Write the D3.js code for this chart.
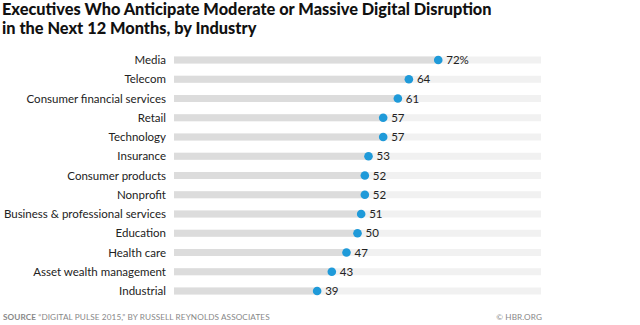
<!DOCTYPE html>
<html lang="en">
<head>
    <meta charset="UTF-8">
    <title>Digital Disruption by Industry</title>
    <script src="https://d3js.org/d3.v7.min.js"></script>
    <style>
        body {
            margin: 0;
            background: #fff;
            font-family: 'Lato', 'Open Sans', sans-serif;
        }
        svg { display: block; }
        .title { font-weight: 900; font-size: 17px; fill: #111; }
        .label { font-size: 11.5px; fill: #222; }
        .value { font-size: 11.5px; fill: #222; }
        .foot { font-size: 8.2px; fill: #888; letter-spacing: 0.1px; }
    </style>
</head>
<body>
    <svg id="chart" width="640" height="325"></svg>

    <script>
        const industries = [
            "Media", "Telecom", "Consumer financial services", "Retail", "Technology",
            "Insurance", "Consumer products", "Nonprofit", "Business & professional services",
            "Education", "Health care", "Asset wealth management", "Industrial"
        ];
        const shares = [72, 64, 61, 57, 57, 53, 52, 52, 51, 50, 47, 43, 39];
        const titleLines = [
            "Executives Who Anticipate Moderate or Massive Digital Disruption",
            "in the Next 12 Months, by Industry"
        ];

        const svg = d3.select("#chart");

        // title, shrunk so the first line ends near x=492
        const title = svg.selectAll(".title")
            .data(titleLines)
            .enter().append("text")
            .attr("class", "title")
            .attr("x", 2)
            .attr("y", (d, i) => 15 + i * 19)
            .text(d => d);
        const w = title.node().getComputedTextLength();
        const fs = Math.min(17, 17 * 490 / w);
        title.style("font-size", fs + "px");

        const x = d3.scaleLinear().domain([0, 100]).range([174, 541]);
        const y = d3.scalePoint().domain(industries).range([60, 291]);

        const rows = svg.append("g")
            .selectAll("g")
            .data(industries.map((name, i) => ({ name, value: shares[i] })))
            .enter().append("g")
            .attr("transform", d => `translate(0,${y(d.name)})`);

        // full track, light gray
        rows.append("rect")
            .attr("x", x(0))
            .attr("y", -3.5)
            .attr("width", x(100) - x(0))
            .attr("height", 7)
            .attr("fill", "#f1f1f1");

        // filled part up to the value
        rows.append("rect")
            .attr("x", x(0))
            .attr("y", -3.5)
            .attr("width", d => x(d.value) - x(0))
            .attr("height", 7)
            .attr("fill", "#dcdcdc");

        rows.append("circle")
            .attr("cx", d => x(d.value))
            .attr("r", 4.3)
            .attr("fill", "#1f9ad9");

        rows.append("text")
            .attr("class", "value")
            .attr("x", d => x(d.value) + 8)
            .attr("dy", "0.36em")
            .text((d, i) => i === 0 ? d.value + "%" : d.value);

        rows.append("text")
            .attr("class", "label")
            .attr("x", 166)
            .attr("dy", "0.36em")
            .attr("text-anchor", "end")
            .text(d => d.name);

        // footer
        const src = svg.append("text")
            .attr("class", "foot")
            .attr("x", 3)
            .attr("y", 320);
        src.append("tspan").attr("font-weight", 700).text("SOURCE");
        src.append("tspan").text(" \u201CDIGITAL PULSE 2015,\u201D BY RUSSELL REYNOLDS ASSOCIATES");

        svg.append("text")
            .attr("class", "foot")
            .attr("x", 542)
            .attr("y", 320)
            .attr("text-anchor", "end")
            .text("\u00A9 HBR.ORG");
    </script>
</body>
</html>
